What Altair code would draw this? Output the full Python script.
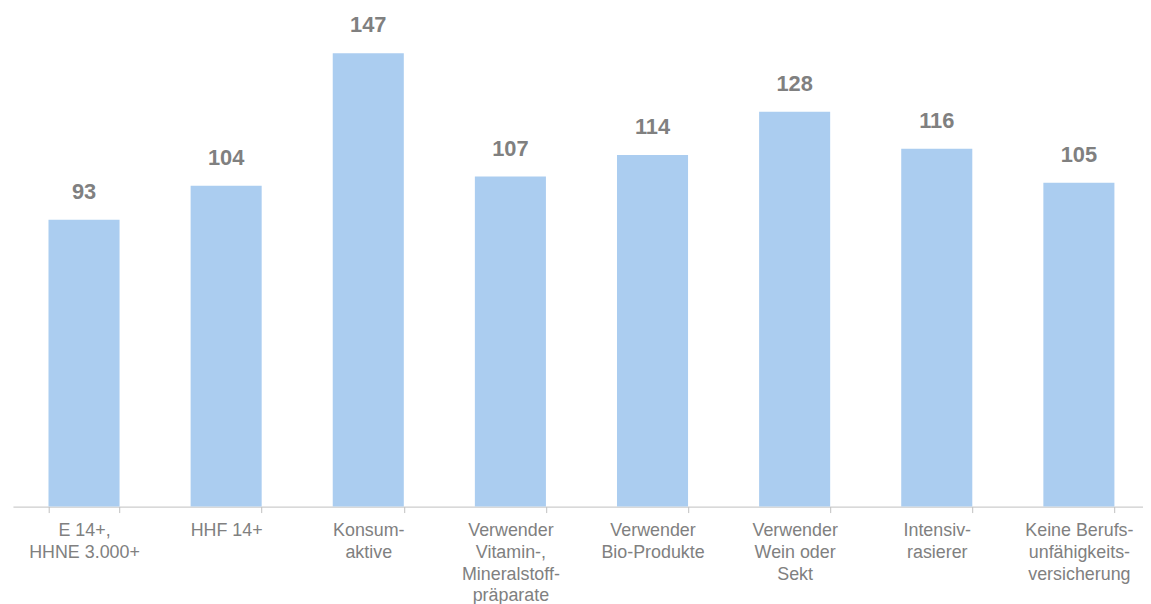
import altair as alt
import pandas as pd

categories = [
    "E 14+,|HHNE 3.000+",
    "HHF 14+",
    "Konsum-|aktive",
    "Verwender|Vitamin-,|Mineralstoff-|präparate",
    "Verwender|Bio-Produkte",
    "Verwender|Wein oder|Sekt",
    "Intensiv-|rasierer",
    "Keine Berufs-|unfähigkeits-|versicherung",
]
values = [93, 104, 147, 107, 114, 128, 116, 105]

df = pd.DataFrame({"cat": categories, "val": values})

x = alt.X(
    "cat:N",
    sort=categories,
    title=None,
    scale=alt.Scale(paddingInner=0.5, paddingOuter=0.25),
    axis=alt.Axis(
        labelAngle=0,
        labelExpr="split(datum.label, '|')",
        labelFont="Liberation Sans",
        labelFontSize=18,
        labelColor="#808080",
        labelLineHeight=22,
        labelPadding=9,
        labelLimit=200,
        tickBand="extent",
        tickSize=6,
        tickColor="#BFBFBF",
        domainColor="#BFBFBF",
        labelBaseline="top",
    ),
)
y = alt.Y("val:Q", scale=alt.Scale(domain=[0, 160]), axis=None)

bars = alt.Chart(df).mark_bar(color="#ABCDF0").encode(x=x, y=y)
labels = alt.Chart(df).mark_text(
    baseline="bottom", dy=-16, font="Liberation Sans", fontSize=22,
    fontWeight="bold", color="#808080"
).encode(x=x, y=y, text="val:Q")

chart = (bars + labels).properties(
    width=1145, height=497,
    padding={"left": 5, "top": 3, "right": -7, "bottom": 100},
    autosize=alt.AutoSizeParams(type="none"),
).configure_view(stroke=None)

chart.save("out.html", embed_options={"renderer": "svg", "actions": False})
